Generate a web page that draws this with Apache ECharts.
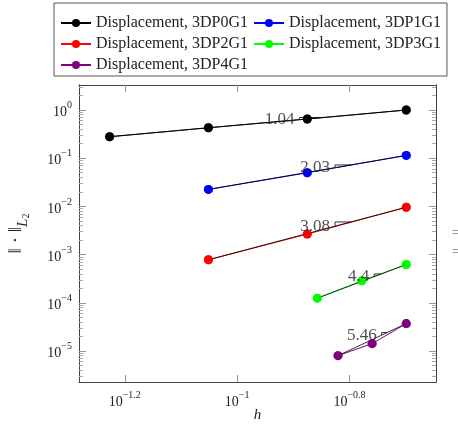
<!DOCTYPE html>
<html lang="en">
<head>
    <meta charset="UTF-8">
    <title>convergence</title>
    <style>
        html, body { margin: 0; padding: 0; background: #fff; }
        #main { width: 458px; height: 427px; }
    </style>
</head>
<body>
    <div id="main"></div>
</body>
<script src="https://cdn.jsdelivr.net/npm/echarts@6/dist/echarts.min.js"></script>
<script>
    // mesh size h and L2 error, one pair of arrays per discretisation
    const h0 = [0.0593, 0.0889, 0.1333, 0.2]
    const err0 = [0.279, 0.429, 0.650, 1.0]
    const h1 = [0.0889, 0.1333, 0.2]
    const err1 = [0.0225, 0.0499, 0.1143]
    const h2 = [0.0889, 0.1333, 0.2]
    const err2 = [7.8e-4, 2.66e-3, 9.6e-3]
    const h3 = [0.1389, 0.1667, 0.2]
    const err3 = [1.245e-4, 2.85e-4, 6.22e-4]
    const h4 = [0.1512, 0.1739, 0.2]
    const err4 = [8.0e-6, 1.42e-5, 3.70e-5]

    const names = [
        'Displacement, 3DP0G1',
        'Displacement, 3DP1G1',
        'Displacement, 3DP2G1',
        'Displacement, 3DP3G1',
        'Displacement, 3DP4G1'
    ]
    const rates = ['1.04', '2.03', '3.08', '4.4', '5.46']
    const colors = ['#000000', '#0000ff', '#ff0000', '#00ff00', '#800080']

    // exponents of the tick labels (log10 axes)
    const xTicks = [-1.2, -1, -0.8]
    const yTicks = [-5, -4, -3, -2, -1, 0]

    const hs = [h0, h1, h2, h3, h4]
    const errs = [err0, err1, err2, err3, err4]

    const xMin = -1.2815, xMax = -0.646
    const yMin = -5.644, yMax = 0.519

    // log minor ticks 2..9 of each decade
    let yMinor = []
    for (let n = -6; n <= 0; n++) {
        for (let k = 2; k <= 9; k++) {
            let v = n + Math.log10(k)
            if (v > yMin && v < yMax) yMinor.push(v)
        }
    }

    const serif = 'Liberation Serif'
    const axisColor = '#444'

    function expLabel(v) {
        let e = v === 0 ? '0' : (v < 0 ? '\u2212' : '') + Math.abs(v)
        return '{b|10}{s|' + e + '}'
    }
    const tickRich = {
        b: { fontFamily: serif, fontSize: 14, color: '#222', lineHeight: 19, verticalAlign: 'bottom' },
        s: { fontFamily: serif, fontSize: 10, color: '#222', lineHeight: 11, verticalAlign: 'top' }
    }

    function yAxisDef(position, ticks, len, color, showLabel) {
        return {
            type: 'value', min: yMin, max: yMax, position: position,
            splitLine: { show: false },
            axisLine: { show: true, onZero: false, lineStyle: { color: axisColor, width: 1 } },
            axisTick: { show: true, inside: true, length: len, customValues: ticks, lineStyle: { color: color } },
            axisLabel: showLabel
                ? { show: true, customValues: ticks, margin: 7, formatter: expLabel, rich: tickRich }
                : { show: false }
        }
    }

    function xAxisDef(position, showLabel) {
        return {
            type: 'value', min: xMin, max: xMax, position: position,
            splitLine: { show: false },
            axisLine: { show: true, onZero: false, lineStyle: { color: axisColor, width: 1 } },
            axisTick: { show: true, inside: true, length: 7, customValues: xTicks, lineStyle: { color: '#999' } },
            axisLabel: showLabel
                ? { show: true, customValues: xTicks, margin: 8, formatter: expLabel, rich: tickRich }
                : { show: false }
        }
    }

    let series = []
    for (let i = 0; i < 5; i++) {
        let pts = hs[i].map((h, j) => [Math.log10(h), Math.log10(errs[i][j])])
        let first = pts[0], last = pts[pts.length - 1]
        let slope = (last[1] - first[1]) / (last[0] - first[0])
        let span = last[0] - first[0]

        // slope triangle on the fit line
        let ax = first[0] + 0.64 * span
        let ay = first[1] + slope * (ax - first[0])
        let w = 0.08 * span
        let tri = [[ax, ay], [ax, ay + slope * w], [ax + w, ay + slope * w]]

        series.push({
            name: names[i], type: 'line', data: pts, z: 2,
            symbol: 'circle', symbolSize: 9, color: colors[i],
            lineStyle: { color: colors[i], width: 1 },
            itemStyle: { color: colors[i] }
        })
        series.push({
            type: 'line', data: [first, last], z: 3, silent: true,
            symbol: 'none', lineStyle: { color: '#000', width: 0.8 }
        })
        series.push({
            type: 'line', data: tri, z: 3, silent: true,
            symbol: 'none', lineStyle: { color: '#000', width: 0.8 }
        })
        series.push({
            type: 'scatter', data: pts, z: 4, silent: true,
            symbol: 'circle', symbolSize: 9, itemStyle: { color: colors[i] }
        })
        series.push({
            type: 'scatter', data: [[ax, ay]], z: 5, silent: true, symbolSize: 0,
            label: {
                show: true, position: 'left', distance: 5, formatter: rates[i],
                fontFamily: serif, fontSize: 17, color: '#222'
            }
        })
    }

    let chart = echarts.init(document.getElementById('main'))
    chart.setOption({
        backgroundColor: '#fff',
        animation: false,
        legend: {
            data: names,
            left: 54, top: 3, width: 395,
            padding: [12, 6, 3, 6],
            itemWidth: 30, itemHeight: 10, itemGap: 5,
            borderColor: '#555', borderWidth: 1,
            textStyle: { fontFamily: serif, fontSize: 16, color: '#222', lineHeight: 16 }
        },
        grid: { left: 79, right: 22, top: 85, bottom: 45, outerBoundsMode: 'none', containLabel: false },
        xAxis: [
            Object.assign(xAxisDef('bottom', true), {
                name: 'h', nameLocation: 'middle', nameGap: 26, nameMoveOverlap: false,
                nameTextStyle: { fontFamily: serif, fontSize: 15, fontStyle: 'italic', color: '#222' }
            }),
            xAxisDef('top', false)
        ],
        yAxis: [
            Object.assign(yAxisDef('left', yTicks, 7, '#999', true), {
                name: '{n|\u2016 \u00b7 \u2016}{l|L}{d|2}',
                nameLocation: 'middle', nameRotate: 90, nameGap: 48, nameMoveOverlap: false,
                nameTextStyle: {
                    rich: {
                        n: { fontFamily: serif, fontSize: 19, color: '#222', lineHeight: 21, verticalAlign: 'top' },
                        l: { fontFamily: serif, fontSize: 15, fontStyle: 'italic', color: '#222', lineHeight: 24, verticalAlign: 'bottom' },
                        d: { fontFamily: serif, fontSize: 10, color: '#222', lineHeight: 16, verticalAlign: 'bottom' }
                    }
                }
            }),
            yAxisDef('left', yMinor, 4, '#aaa', false),
            yAxisDef('right', yTicks, 7, '#999', false),
            yAxisDef('right', yMinor, 4, '#aaa', false)
        ],
        graphic: [
            { type: 'text', left: 452, top: 227, style: { text: '=', fontSize: 12, fill: '#999' } },
            { type: 'text', left: 452, top: 246, style: { text: '=', fontSize: 12, fill: '#999' } }
        ],
        series: series
    })
</script>
</html>
